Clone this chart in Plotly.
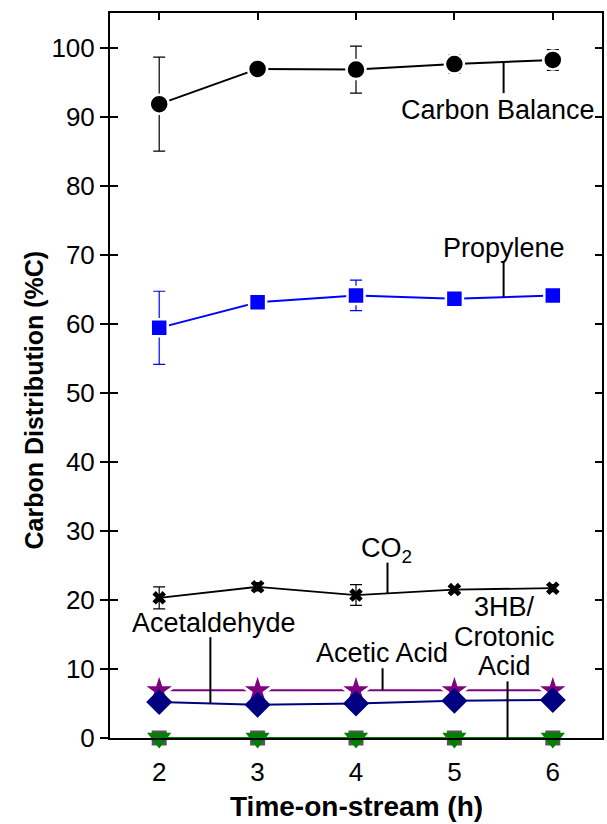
import plotly.graph_objects as go

time_h = [2, 3, 4, 5, 6]

carbon_balance = [91.8, 96.9, 96.8, 97.6, 98.2]
carbon_balance_err = [6.8, 0.8, 3.4, 1.3, 1.5]

propylene = [59.4, 63.1, 64.1, 63.6, 64.1]
propylene_err = [5.3, 0.4, 2.2, 0.3, 0.3]

co2 = [20.3, 21.9, 20.7, 21.5, 21.7]
co2_err = [1.6, 0.6, 1.5, 0.4, 0.5]

acetic_acid = [6.9, 6.9, 6.9, 6.9, 6.9]
acetaldehyde = [5.2, 4.8, 5.0, 5.4, 5.5]
other_zero = [0, 0, 0, 0, 0]
hb_crotonic = [0, 0, 0, 0, 0]

FONT = "Liberation Sans, Arial, sans-serif"

fig = go.Figure()

fig.add_trace(go.Scatter(
    x=time_h, y=carbon_balance, mode="lines+markers",
    line=dict(color="black", width=2),
    marker=dict(symbol="circle", size=19, color="black", line=dict(color="white", width=2.5)),
    error_y=dict(type="data", array=carbon_balance_err, color="black", thickness=1.2, width=6),
    cliponaxis=False, showlegend=False))

fig.add_trace(go.Scatter(
    x=time_h, y=propylene, mode="lines+markers",
    line=dict(color="#0000FF", width=2),
    marker=dict(symbol="square", size=17, color="#0000FF", line=dict(color="white", width=2.5)),
    error_y=dict(type="data", array=propylene_err, color="#0000FF", thickness=1.2, width=6),
    cliponaxis=False, showlegend=False))

fig.add_trace(go.Scatter(
    x=time_h, y=co2, mode="lines+markers",
    line=dict(color="black", width=1.8),
    marker=dict(symbol="x", size=12, color="black", line=dict(width=0)),
    error_y=dict(type="data", array=co2_err, color="black", thickness=1.2, width=6),
    cliponaxis=False, showlegend=False))

fig.add_trace(go.Scatter(
    x=time_h, y=acetic_acid, mode="lines+markers",
    line=dict(color="#800080", width=2),
    marker=dict(symbol="star", size=26, color="#800080", line=dict(color="white", width=3)),
    cliponaxis=False, showlegend=False))

fig.add_trace(go.Scatter(
    x=time_h, y=acetaldehyde, mode="lines+markers",
    line=dict(color="#000080", width=2),
    marker=dict(symbol="diamond", size=20, color="#000080", line=dict(width=0)),
    cliponaxis=False, showlegend=False))

fig.add_trace(go.Scatter(
    x=time_h, y=other_zero, mode="markers",
    marker=dict(symbol="square", size=15, color="#555555", line=dict(width=0)),
    cliponaxis=False, showlegend=False))

fig.add_trace(go.Scatter(
    x=time_h, y=hb_crotonic, mode="lines+markers",
    line=dict(color="#008000", width=2),
    marker=dict(symbol="triangle-down", size=21, color="#008000", line=dict(width=0)),
    cliponaxis=False, showlegend=False))

RANGE_X = [1.5, 6.5]
RANGE_Y = [0, 105]
tickvals_y = [0, 10, 20, 30, 40, 50, 60, 70, 80, 90, 100]

fig.update_layout(
    width=607, height=824,
    margin=dict(l=110, r=3, t=13, b=86),
    plot_bgcolor="white", paper_bgcolor="white",
    font=dict(family=FONT, size=26, color="black"),
    xaxis=dict(range=RANGE_X, tickvals=time_h, ticks="outside", ticklen=10, tickwidth=1,
               tickcolor="rgba(0,0,0,0)", showline=True, linewidth=2, linecolor="black",
               mirror=True, showgrid=False, zeroline=False,
               tickfont=dict(size=26)),
    xaxis2=dict(range=RANGE_X, tickvals=time_h, overlaying="x", side="top", ticks="inside",
                ticklen=7, tickwidth=2, tickcolor="black", showline=True, linewidth=2,
                linecolor="black", showticklabels=False, showgrid=False, zeroline=False),
    yaxis=dict(range=RANGE_Y, tickvals=tickvals_y, ticks="outside", ticklen=8, tickwidth=2,
               tickcolor="black", showline=True, linewidth=2, linecolor="black",
               mirror=True, showgrid=False, zeroline=False,
               tickfont=dict(size=26)),
    yaxis2=dict(range=RANGE_Y, tickvals=tickvals_y, overlaying="y", side="left",
                ticks="inside", ticklen=8, tickwidth=2, tickcolor="black",
                showline=False, showticklabels=False, showgrid=False, zeroline=False),
    yaxis3=dict(range=RANGE_Y, tickvals=tickvals_y, overlaying="y", side="right",
                ticks="inside", ticklen=7, tickwidth=2, tickcolor="black",
                showline=True, linewidth=2, linecolor="black",
                showticklabels=False, showgrid=False, zeroline=False),
)

# dummy traces to activate overlay axes
fig.add_trace(go.Scatter(x=[None], y=[None], xaxis="x2", yaxis="y2", showlegend=False, hoverinfo="skip"))
fig.add_trace(go.Scatter(x=[None], y=[None], xaxis="x2", yaxis="y3", showlegend=False, hoverinfo="skip"))

# axis titles
fig.add_annotation(xref="paper", yref="paper", x=0.5, y=-0.0938, text="<b>Time-on-stream (h)</b>",
                   showarrow=False, xanchor="center", yanchor="middle",
                   font=dict(family=FONT, size=28, color="black"))
fig.add_annotation(xref="paper", yref="paper", x=-0.1538, y=0.466, text="<b>Carbon Distribution (%C)</b>",
                   textangle=-90, showarrow=False, xanchor="center", yanchor="middle",
                   font=dict(family=FONT, size=25, color="black"))

# labels (x, y, text)
labels = [
    (5.445, 91.0, "Carbon Balance"),
    (5.50, 71.0, "Propylene"),
    (4.31, 27.3, "CO<sub>2</sub>"),
    (2.555, 16.7, "Acetaldehyde"),
    (4.26, 12.3, "Acetic Acid"),
    (5.51, 19.0, "3HB/"),
    (5.51, 14.7, "Crotonic"),
    (5.51, 10.4, "Acid"),
]
for lx, ly, lt in labels:
    fig.add_annotation(x=lx, y=ly, text=lt, showarrow=False, xanchor="center", yanchor="middle",
                       font=dict(family=FONT, size=27, color="black"))

# leader lines (x, y_top, y_bottom)
leaders = [
    (5.50, 97.95, 93.4),
    (5.50, 69.0, 63.85),
    (4.32, 25.4, 20.9),
    (2.52, 14.6, 4.99),
    (4.27, 10.1, 6.9),
    (5.54, 8.2, 0.0),
]
for lx, y0, y1 in leaders:
    fig.add_shape(type="line", x0=lx, x1=lx, y0=y0, y1=y1, xref="x", yref="y",
                  line=dict(color="black", width=2))

fig.write_html("out.html")
